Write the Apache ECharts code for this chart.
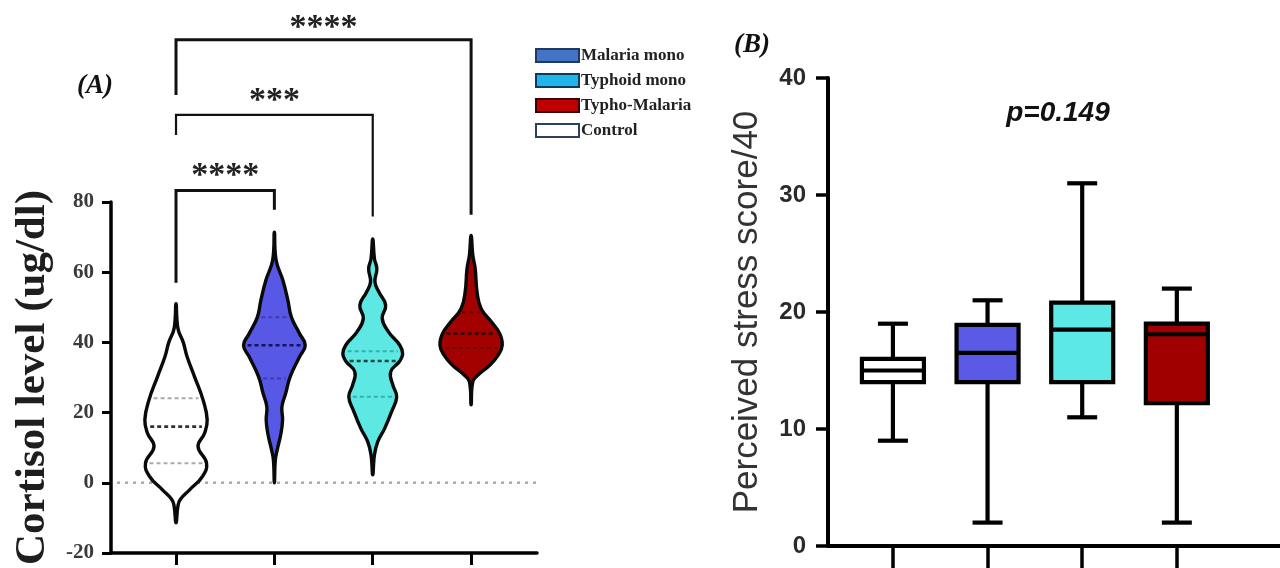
<!DOCTYPE html>
<html><head><meta charset="utf-8">
<script src="https://cdn.jsdelivr.net/npm/echarts@6/dist/echarts.min.js"></script>
<style>html,body{margin:0;padding:0;background:#fff;}#c{width:1280px;height:568px;}</style>
</head><body><div id="c"></div>
<script>
// ---------- Panel A: violin data (cortisol, ug/dl) ----------
const violinNames = ['Malaria mono', 'Typhoid mono', 'Typho-Malaria', 'Control'];
const violinX = [2, 3, 4, 1];               // category position on the x axis
// density profiles: [cortisol value, relative density 0..1]
const malariaProfile = [[71.4,0],[63.4,0.055],[57.7,0.27],[52,0.43],[47.2,0.54],[42.5,0.8],[39.2,0.98],[35.9,0.8],[30.2,0.5],[25.5,0.36],[21.7,0.24],[17.9,0.26],[14.1,0.21],[9.4,0.09],[6.5,0.03],[0,0]];
const typhoidProfile = [[69.5,0],[63.8,0.055],[61,0.13],[57.2,0.07],[54.3,0.2],[50.6,0.41],[46.8,0.3],[43,0.5],[39.2,0.86],[36.8,0.95],[34.7,0.86],[31.6,0.57],[27.8,0.64],[24.5,0.76],[20.3,0.6],[15.5,0.38],[11.7,0.16],[8,0.055],[2.3,0]];
const typhoMalariaProfile = [[70.5,0],[64.8,0.055],[61,0.13],[54.3,0.19],[49.6,0.32],[45.8,0.65],[42.5,0.91],[39.2,0.99],[36.4,0.86],[33.5,0.59],[30.7,0.22],[28.8,0.055],[22.2,0]];
const controlProfile = [[51,0],[44,0.06],[40,0.23],[36,0.35],[30.2,0.59],[23.6,0.86],[18,0.99],[14.2,0.91],[10.3,0.7],[5.6,0.97],[1.8,0.84],[-2,0.43],[-4.8,0.13],[-6.7,0.06],[-11.4,0]];
const violinProfiles = [malariaProfile, typhoidProfile, typhoMalariaProfile, controlProfile];
// quartiles [Q1, median, Q3]
const malariaQuartiles = [29.7, 39.2, 47.2];
const typhoidQuartiles = [24.5, 34.7, 37.5];
const typhoMalariaQuartiles = [38.4, 42.5, 48.5];
const controlQuartiles = [5.6, 16.0, 24.1];
const violinQuartiles = [malariaQuartiles, typhoidQuartiles, typhoMalariaQuartiles, controlQuartiles];
const cortisolTicks = [-20, 0, 20, 40, 60, 80];

// significance brackets (Control vs each group)
const bracketFrom = [1, 1, 1];
const bracketTo = [2, 3, 4];
const bracketTop = [83.3, 104.8, 126.2];
const bracketLeftEnd = [57.0, 99.1, 110.5];
const bracketRightEnd = [77.8, 75.9, 76.4];
const bracketLabels = ['****', '***', '****'];
const bracketLabelY = [89.7, 111.1, 131.9];

// ---------- Panel B: box plot (perceived stress score) ----------
const boxGroups = ['Control', 'Malaria mono', 'Typhoid mono', 'Typho-Malaria'];
const boxMin = [9, 2, 11, 2];
const boxQ1 = [14, 14, 14, 12.2];
const boxMedian = [15, 16.5, 18.5, 18.1];
const boxQ3 = [16, 18.9, 20.8, 19];
const boxMax = [19, 21, 31, 22];
const stressTicks = [0, 10, 20, 30, 40];
const pValueText = 'p=0.149';

// ---------- styles ----------
const violinFill = ['#5858e6', '#5ee8e3', '#a30000', '#ffffff'];
const violinMedianColor = ['#14145a', '#114848', '#3a0000', '#333333'];
const violinQuartColor = ['#3c3cb8', '#35b0ad', '#6e0000', '#aaaaaa'];
const legendFill = ['#4472c4', '#1fb4ea', '#c00000', '#ffffff'];
const legendBorder = ['#1f3864', '#0d3b57', '#3a0000', '#2f3f60'];
const boxFill = ['#ffffff', '#5a5ae6', '#5ce8e5', '#a00000'];

const A_X_MIN = 0.339, A_X_MAX = 4.67;
const B_X_MIN = 0.314, B_X_MAX = 5.09;

function halfAt(prof, v) {
  for (let k = 0; k < prof.length - 1; k++) {
    const a = prof[k], b = prof[k + 1];
    if ((v <= a[0] && v >= b[0])) {
      const t = (a[0] - v) / (a[0] - b[0]);
      return a[1] + (b[1] - a[1]) * t;
    }
  }
  return 0;
}

function makeViolin(idx) {
  return {
    type: 'custom', name: violinNames[idx], xAxisIndex: 0, yAxisIndex: 0, z: 3, clip: false,
    itemStyle: { color: violinFill[idx] },
    data: [[violinX[idx], violinQuartiles[idx][1]]],
    encode: { x: 0, y: 1 },
    renderItem: function (params, api) {
      const prof = violinProfiles[idx];
      const cx = api.value(0);
      const unit = api.size([1, 0])[0];
      const maxHalf = unit * 0.32;
      const pts = [];
      for (let k = 0; k < prof.length; k++) {
        const p = api.coord([cx, prof[k][0]]);
        pts.push([p[0] + prof[k][1] * maxHalf, p[1]]);
      }
      for (let k = prof.length - 2; k >= 1; k--) {
        const p = api.coord([cx, prof[k][0]]);
        pts.push([p[0] - prof[k][1] * maxHalf, p[1]]);
      }
      const children = [{
        type: 'polygon', shape: { points: pts, smooth: 0.45 },
        style: { fill: violinFill[idx], stroke: '#0a0a0a', lineWidth: 3.4, lineJoin: 'round' }
      }];
      const q = violinQuartiles[idx];
      q.forEach(function (v, j) {
        const p = api.coord([cx, v]);
        const h = Math.max(0, halfAt(prof, v) * maxHalf - 4);
        children.push({
          type: 'line', shape: { x1: p[0] - h, y1: p[1], x2: p[0] + h, y2: p[1] },
          style: { stroke: j === 1 ? violinMedianColor[idx] : violinQuartColor[idx], lineWidth: j === 1 ? 2.6 : 2, lineDash: [4, 3] }
        });
      });
      return { type: 'group', children: children };
    }
  };
}

const chart = echarts.init(document.getElementById('c'));
const option = {
  animation: false,
  backgroundColor: '#ffffff',
  grid: [
    { left: 111, right: 743, top: 202, bottom: 15, outerBoundsMode: 'none' },
    { left: 828, right: 0, top: 78, bottom: 22, outerBoundsMode: 'none' }
  ],
  xAxis: [
    { gridIndex: 0, type: 'value', min: A_X_MIN, max: A_X_MAX,
      axisLine: { onZero: false, lineStyle: { color: '#000', width: 3.5 } },
      axisTick: { show: true, customValues: [1, 2, 3, 4], length: 12, lineStyle: { color: '#000', width: 3 } },
      axisLabel: { show: false }, splitLine: { show: false } },
    { gridIndex: 1, type: 'value', min: B_X_MIN, max: B_X_MAX,
      axisLine: { onZero: false, lineStyle: { color: '#000', width: 4 } },
      axisTick: { show: true, customValues: [1, 2, 3, 4], length: 22, lineStyle: { color: '#000', width: 3.5 } },
      axisLabel: { show: false }, splitLine: { show: false } }
  ],
  yAxis: [
    { gridIndex: 0, type: 'value', min: cortisolTicks[0], max: cortisolTicks[cortisolTicks.length - 1], interval: 20,
      axisLine: { show: true, onZero: false, lineStyle: { color: '#000', width: 3.5 } },
      axisTick: { show: true, length: 9, lineStyle: { color: '#000', width: 3 } },
      axisLabel: { fontFamily: 'Liberation Serif', fontWeight: 'bold', fontSize: 21, color: '#3a3a3a', margin: 17 },
      splitLine: { show: false },
      name: 'Cortisol level (ug/dl)', nameLocation: 'middle', nameRotate: 90, nameGap: 57,
      nameTextStyle: { fontFamily: 'Liberation Serif', fontWeight: 'bold', fontSize: 43, color: '#1e1e1e' } },
    { gridIndex: 1, type: 'value', min: stressTicks[0], max: stressTicks[stressTicks.length - 1], interval: 10,
      axisLine: { show: true, onZero: false, lineStyle: { color: '#000', width: 4 } },
      axisTick: { show: true, length: 12, lineStyle: { color: '#000', width: 3.5 } },
      axisLabel: { fontFamily: 'Liberation Sans', fontWeight: 'bold', fontSize: 24, color: '#2a2a2a', margin: 22 },
      splitLine: { show: false },
      name: 'Perceived stress score/40', nameLocation: 'middle', nameRotate: 90, nameGap: 63,
      nameTextStyle: { fontFamily: 'Liberation Sans', fontSize: 35, color: '#333333' } }
  ],
  legend: {
    orient: 'vertical', left: 535, top: 47, padding: 0, itemWidth: 43, itemHeight: 13, itemGap: 8,
    icon: 'rect', selectedMode: false,
    textStyle: { fontFamily: 'Liberation Serif', fontWeight: 'bold', fontSize: 17, color: '#222', lineHeight: 16, padding: [0, 0, 0, -3] },
    data: violinNames.map(function (n, i) {
      return { name: n, itemStyle: { color: legendFill[i], borderColor: legendBorder[i], borderWidth: 2 } };
    })
  },
  graphic: [
    { type: 'text', x: 77, y: 86, style: { text: '(A)', fontFamily: 'Liberation Serif', fontStyle: 'italic', fontWeight: 'bold', fontSize: 27, fill: '#111', verticalAlign: 'middle' } },
    { type: 'text', x: 734, y: 45, style: { text: '(B)', fontFamily: 'Liberation Serif', fontStyle: 'italic', fontWeight: 'bold', fontSize: 27, fill: '#111', verticalAlign: 'middle' } },
    { type: 'text', x: 1058, y: 113, style: { text: pValueText, fontFamily: 'Liberation Sans', fontStyle: 'italic', fontWeight: 'bold', fontSize: 28, fill: '#111', align: 'center', verticalAlign: 'middle' } }
  ],
  series: [
    { // zero reference line
      type: 'custom', xAxisIndex: 0, yAxisIndex: 0, z: 1, silent: true,
      data: [[A_X_MIN, 0]], encode: { x: 0, y: 1 },
      renderItem: function (params, api) {
        const a = api.coord([A_X_MIN, 0]), b = api.coord([A_X_MAX, 0]);
        return { type: 'line', shape: { x1: a[0] + 6, y1: a[1], x2: b[0], y2: b[1] },
          style: { stroke: '#a8a8a8', lineWidth: 2.5, lineDash: [3, 5] } };
      }
    },
    makeViolin(3), makeViolin(0), makeViolin(1), makeViolin(2),
    { // significance brackets
      type: 'custom', xAxisIndex: 0, yAxisIndex: 0, z: 4, clip: false, silent: true,
      data: bracketFrom.map(function (f, i) { return [f, bracketTo[i], bracketTop[i], bracketLeftEnd[i], bracketRightEnd[i], bracketLabelY[i]]; }),
      encode: { x: [0, 1], y: [2] },
      renderItem: function (params, api) {
        const i = params.dataIndex;
        const f = api.value(0), t = api.value(1), top = api.value(2), le = api.value(3), re = api.value(4), ly = api.value(5);
        const p1 = api.coord([f, le]), p2 = api.coord([f, top]), p3 = api.coord([t, top]), p4 = api.coord([t, re]);
        const pl = api.coord([(f + t) / 2, ly]);
        return { type: 'group', children: [
          { type: 'polyline', shape: { points: [p1, p2, p3, p4] }, style: { stroke: '#111', lineWidth: i === 1 ? 2.2 : 3, fill: null } },
          { type: 'text', x: pl[0], y: pl[1] + 8, style: { text: bracketLabels[i], fontFamily: 'Liberation Serif', fontWeight: 'bold', fontSize: 34, fill: '#222', align: 'center', verticalAlign: 'middle' } }
        ] };
      }
    },
    { // box plots
      type: 'custom', name: 'Perceived stress', xAxisIndex: 1, yAxisIndex: 1, z: 3,
      data: boxGroups.map(function (g, i) { return [i + 1, boxMin[i], boxQ1[i], boxMedian[i], boxQ3[i], boxMax[i]]; }),
      encode: { x: 0, y: [1, 2, 3, 4, 5] },
      renderItem: function (params, api) {
        const i = params.dataIndex;
        const x = api.value(0);
        const pMin = api.coord([x, api.value(1)]), pQ1 = api.coord([x, api.value(2)]), pMed = api.coord([x, api.value(3)]),
              pQ3 = api.coord([x, api.value(4)]), pMax = api.coord([x, api.value(5)]);
        const cx = pMin[0], bw = 62, cw = 30, lw = 4.2;
        const st = { stroke: '#000', lineWidth: lw };
        return { type: 'group', children: [
          { type: 'line', shape: { x1: cx, y1: pMin[1], x2: cx, y2: pMax[1] }, style: st },
          { type: 'line', shape: { x1: cx - cw / 2, y1: pMin[1], x2: cx + cw / 2, y2: pMin[1] }, style: st },
          { type: 'line', shape: { x1: cx - cw / 2, y1: pMax[1], x2: cx + cw / 2, y2: pMax[1] }, style: st },
          { type: 'rect', shape: { x: cx - bw / 2, y: pQ3[1], width: bw, height: pQ1[1] - pQ3[1] }, style: { fill: boxFill[i], stroke: '#000', lineWidth: lw } },
          { type: 'line', shape: { x1: cx - bw / 2, y1: pMed[1], x2: cx + bw / 2, y2: pMed[1] }, style: st }
        ] };
      }
    }
  ]
};
chart.setOption(option);
</script></body></html>
